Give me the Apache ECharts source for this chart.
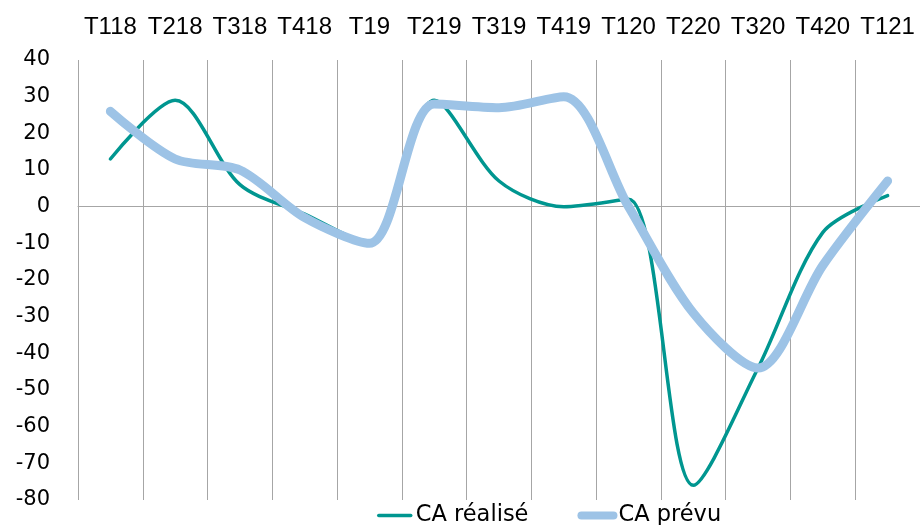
<!DOCTYPE html>
<html lang="fr">
  <head>
    <meta charset="UTF-8" />
    <title>CA réalisé / CA prévu</title>
    <script src="https://cdn.jsdelivr.net/npm/echarts@6/dist/echarts.min.js"></script>
    <style>
      html, body { margin: 0; padding: 0; background: #fff; }
      #chart { width: 920px; height: 525px; }
    </style>
  </head>
  <body>
    <div id="chart"></div>
    <script>
      // trimestres
      var categories = ["T118", "T218", "T318", "T418", "T19", "T219", "T319", "T419", "T120", "T220", "T320", "T420", "T121"];
      // CA réalisé (courbe verte)
      var caRealise = [13, 29, 6, -2, -10, 29, 7, 0, 2, -76, -44, -7, 3];
      // CA prévu (courbe bleue épaisse)
      var caPrevu = [26, 13, 10, -3, -10, 28, 27, 30, 0, -29, -44, -16, 7];

      var myChart = echarts.init(document.getElementById("chart"));

      var option = {
        animation: false,
        grid: {
          left: 78,
          right: 0,
          top: 60,
          bottom: 25
        },
        legend: {
          left: 372,
          top: 499,
          itemWidth: 32,
          itemHeight: 12,
          itemGap: 49,
          itemStyle: { opacity: 0 },
          textStyle: {
            fontFamily: "DejaVu Sans",
            fontSize: 22.5,
            color: "#000"
          },
          data: [
            { name: "CA réalisé", lineStyle: { width: 3.5, cap: "round" } },
            { name: "CA prévu", lineStyle: { width: 8, cap: "round" } }
          ]
        },
        xAxis: [
          {
            type: "category",
            position: "top",
            data: categories,
            axisLine: { show: false, onZero: false },
            axisTick: { show: false },
            axisLabel: {
              interval: 0,
              margin: 21,
              fontFamily: "Liberation Sans",
              fontSize: 24,
              color: "#000"
            },
            splitLine: {
              show: true,
              interval: 0,
              lineStyle: { color: "#a6a6a6", width: 1 }
            }
          },
          {
            // ligne du zéro
            type: "category",
            position: "bottom",
            data: categories,
            axisLine: { show: true, onZero: true, lineStyle: { color: "#a6a6a6", width: 1 } },
            axisTick: { show: false },
            axisLabel: { show: false },
            splitLine: { show: false }
          }
        ],
        yAxis: {
          type: "value",
          min: -80,
          max: 40,
          interval: 10,
          axisLine: { show: false },
          axisTick: { show: false },
          splitLine: { show: false },
          axisLabel: {
            margin: 28,
            fontFamily: "DejaVu Sans",
            fontSize: 21,
            color: "#000"
          }
        },
        series: [
          {
            name: "CA réalisé",
            type: "line",
            smooth: 0.3,
            symbol: "none",
            color: "#009690",
            lineStyle: { color: "#009690", width: 3.5, cap: "round" },
            data: caRealise
          },
          {
            name: "CA prévu",
            type: "line",
            smooth: 0.3,
            symbol: "none",
            color: "#9dc3e6",
            lineStyle: { color: "#9dc3e6", width: 9, cap: "round" },
            data: caPrevu
          }
        ]
      };

      myChart.setOption(option);
    </script>
  </body>
</html>
